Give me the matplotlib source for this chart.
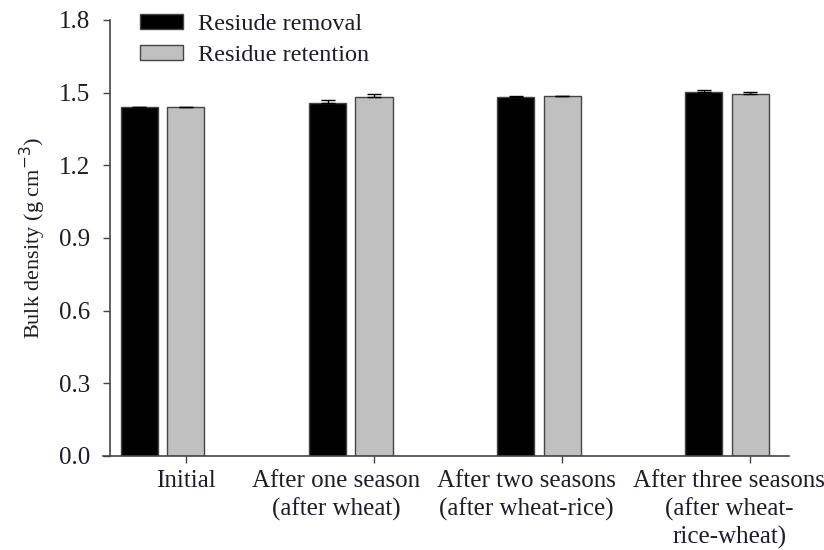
# Bulk density under residue removal vs retention over successive seasons
import matplotlib
matplotlib.use('Agg')
import matplotlib.pyplot as plt
import matplotlib.transforms as mtransforms
import numpy as np

categories = ['Initial', 'After one season\n(after wheat)',
              'After two seasons\n(after wheat-rice)',
              'After three seasons\n(after wheat-\nrice-wheat)']
removal = [1.442, 1.459, 1.481, 1.503]
removal_err = [0.0, 0.011, 0.007, 0.007]
retention = [1.441, 1.481, 1.486, 1.496]
retention_err = [0.0, 0.015, 0.002, 0.006]
yticks = [0.0, 0.3, 0.6, 0.9, 1.2, 1.5, 1.8]

plt.rcParams['font.family'] = ['Liberation Serif', 'DejaVu Serif']
text_col = '#1c1c2a'
edge_col = '#444444'

fig = plt.figure(figsize=(8.24, 5.5), dpi=100)
ax = fig.add_axes([103/824, 1 - 456/550, (789 - 103)/824, (456 - 20)/550])

x = np.arange(len(categories))
width = 0.197
offset = 0.247

ax.bar(x - offset, removal, width, color='black', edgecolor=edge_col, linewidth=1,
       yerr=[[0]*4, removal_err], error_kw=dict(ecolor='black', elinewidth=1, capsize=4.7, capthick=1),
       label='Resiude removal')
ax.bar(x, retention, width, color='#c0c0c0', edgecolor=edge_col, linewidth=1,
       yerr=[[0]*4, retention_err], error_kw=dict(ecolor='black', elinewidth=1, capsize=4.7, capthick=1),
       label='Residue retention')

ax.set_xlim(-0.441, 3.207)
ax.set_ylim(0, 1.8)
ax.set_yticks(yticks)
ax.set_yticklabels(['%.1f' % v for v in yticks])
ax.set_xticks(x)
ax.set_xticklabels([])

# category labels sit a little left of the ticks in the original figure
label_shift = [0.0, -0.2, -0.19, -0.11]
trans = mtransforms.blended_transform_factory(ax.transData, ax.transAxes)
trans = trans + mtransforms.ScaledTranslation(0, -14/100, fig.dpi_scale_trans)
for xi, lab, sh in zip(x, categories, label_shift):
    ax.text(xi + sh, 0, lab, transform=trans, ha='center', va='top', multialignment='center',
            fontsize=18, color=text_col, linespacing=1.3)

for s in ['top', 'right']:
    ax.spines[s].set_visible(False)
ax.spines['left'].set_position(('axes', 7/686))
for s in ['left', 'bottom']:
    ax.spines[s].set_color(edge_col)
    ax.spines[s].set_linewidth(1.2)

ax.tick_params(axis='y', direction='out', length=5, width=1, color=edge_col,
               labelsize=18, labelcolor=text_col, pad=9)
ax.tick_params(axis='x', direction='out', length=5, width=1, color=edge_col)

ax.set_ylabel('Bulk density (g cm$^{-3}$)', fontsize=16, color=text_col, labelpad=8)

ax.legend(loc='upper left', bbox_to_anchor=(140/824, 1 - 14/550), bbox_transform=fig.transFigure,
          frameon=False, fontsize=17.5, handlelength=1.75, handleheight=0.58,
          handletextpad=0.62, labelspacing=0.4, borderpad=0, borderaxespad=0,
          labelcolor=text_col)

fig.savefig('out.png', dpi=100)
